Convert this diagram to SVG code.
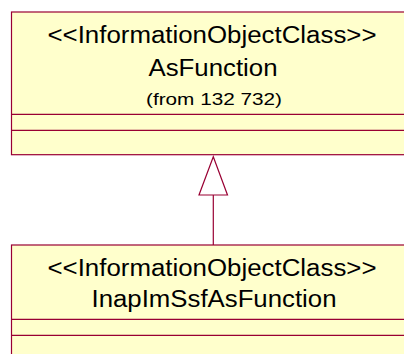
<svg xmlns="http://www.w3.org/2000/svg" width="404" height="354" viewBox="0 0 404 354">
<style>
.box{fill:#FFFFCC;stroke:#990033;stroke-width:1.2}
.sep{stroke:#990033;stroke-width:1.2;fill:none}
.t{font-family:"Liberation Sans",Arial,sans-serif;fill:#000;text-anchor:middle}
.big{font-size:23.5px}
.small{font-size:17px}
.conn{stroke:#990033;stroke-width:1.2;fill:none}
.head{fill:#FFFFFF;stroke:#990033;stroke-width:1.2}
</style>
<rect width="404" height="354" fill="#FFFFFF"/>
<g id="AsFunction">
<rect class="box" x="11.5" y="12" width="420" height="142.7"/>
<text class="t big" x="212" y="42.7" textLength="329" lengthAdjust="spacingAndGlyphs">&lt;&lt;InformationObjectClass&gt;&gt;</text>
<text class="t big" x="213" y="75.7" textLength="129" lengthAdjust="spacingAndGlyphs">AsFunction</text>
<text class="t small" x="214" y="105" textLength="136" lengthAdjust="spacingAndGlyphs">(from 132 732)</text>
<line class="sep" x1="11.5" y1="114.3" x2="420" y2="114.3"/>
<line class="sep" x1="11.5" y1="130.3" x2="420" y2="130.3"/>
</g>
<g id="InapImSsfAsFunction">
<rect class="box" x="11.5" y="245" width="420" height="130"/>
<text class="t big" x="212" y="275.5" textLength="329" lengthAdjust="spacingAndGlyphs">&lt;&lt;InformationObjectClass&gt;&gt;</text>
<text class="t big" x="214" y="306.7" textLength="245" lengthAdjust="spacingAndGlyphs">InapImSsfAsFunction</text>
<line class="sep" x1="11.5" y1="319.3" x2="420" y2="319.3"/>
<line class="sep" x1="11.5" y1="335.3" x2="420" y2="335.3"/>
</g>
<g id="connectors">
<line class="conn" x1="213.3" y1="195" x2="213.3" y2="245"/>
<polygon class="head" points="213.3,156.7 199,195 227.5,195"/>
</g>
</svg>
